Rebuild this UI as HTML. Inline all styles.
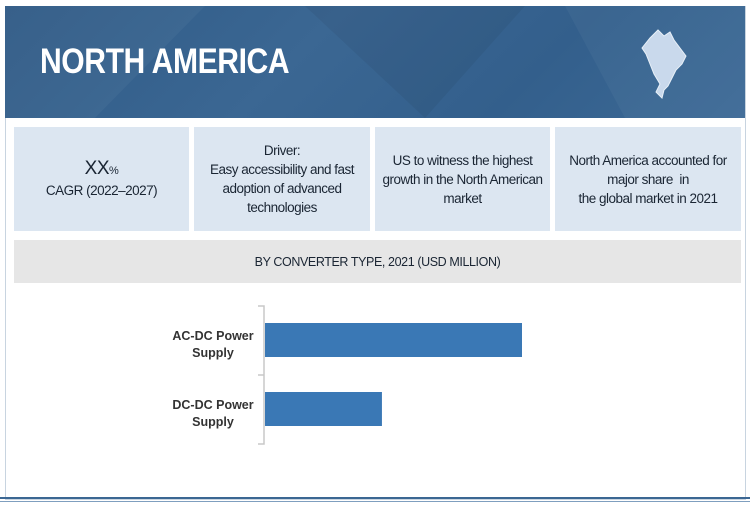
<!DOCTYPE html>
<html><head><meta charset="utf-8"><style>
body{margin:0;width:750px;height:509px;background:#fff;position:relative;overflow:hidden;font-family:"Liberation Sans",sans-serif}
.abs{position:absolute}
.card{position:absolute;top:127px;height:104px;background:#dce6f1;display:flex;align-items:center;justify-content:center;text-align:center;font-size:13.5px;line-height:19px;color:#1a2533;letter-spacing:-0.5px}
</style></head><body>
<div class="abs" style="left:5px;top:6px;width:739px;height:493px;border:1px solid #c8d4e0;border-top:none"></div>
<div class="abs" style="left:5px;top:6px;width:740px;height:112px;background:linear-gradient(135deg,#2f5a86 0%,#3b6793 40%,#335f8c 70%,#3d6a96 100%)"></div>
<svg class="abs" style="left:5px;top:6px" width="740" height="112">
<polygon points="0,0 200,0 90,112 0,112" fill="#ffffff" opacity="0.04"/>
<polygon points="300,0 520,0 420,112" fill="#000" opacity="0.05"/>
<polygon points="560,0 740,0 740,112 620,112" fill="#fff" opacity="0.04"/>
</svg>
<div class="abs" style="left:40px;top:42px;color:#fff;font-size:35px;font-weight:bold;letter-spacing:-0.5px;transform:scaleX(0.86);transform-origin:left top">NORTH AMERICA</div>
<svg class="abs" style="left:636px;top:26px" width="60" height="80">
<path d="M14,12 L22,4 L28,10 L34,6 L38,14 L44,22 L50,30 L46,38 L40,44 L36,52 L32,60 L28,64 L26,72 L20,66 L24,58 L18,48 L14,38 L10,28 L6,22 Z" fill="#c9d9ec" stroke="#e8f0f8" stroke-width="1"/>
</svg>
<div class="card" style="left:14px;width:175px"><div><span style="font-size:19px">XX</span><span style="font-size:11px">%</span><br>CAGR (2022–2027)</div></div>
<div class="card" style="left:194px;width:176px"><div>Driver:<br>Easy accessibility and fast<br>adoption of advanced<br>technologies</div></div>
<div class="card" style="left:375px;width:175px"><div>US to witness the highest<br>growth in the North American<br>market</div></div>
<div class="card" style="left:555px;width:186px"><div>North America accounted for<br>major share&nbsp; in<br>the global market in 2021</div></div>
<div class="abs" style="left:14px;top:240px;width:727px;height:43px;background:#e6e6e6;display:flex;align-items:center;justify-content:center;font-size:12.5px;letter-spacing:-0.4px;color:#1a2533">BY CONVERTER TYPE, 2021 (USD MILLION)</div>
<svg class="abs" style="left:0;top:290px" width="750" height="219" id="chart"></svg>
<div class="abs" style="left:0;top:497px;width:750px;height:2px;background:#3b6793"></div>
<div class="abs" style="left:0;top:501px;width:750px;height:1px;background:#7f9fbf"></div>
<script>
const categories=["AC-DC Power Supply","DC-DC Power Supply"];
const labelLines=[["AC-DC Power","Supply"],["DC-DC Power","Supply"]];
const values=[100,45.5];
const svg=document.getElementById('chart');
const NS='http://www.w3.org/2000/svg';
const x0=265,xMax=522,maxVal=100,yTop=16,band=69;
const xs=v=>x0+(v/maxVal)*(xMax-x0);
const ys=i=>yTop+i*band;
function mk(t,a){const e=document.createElementNS(NS,t);for(const k in a)e.setAttribute(k,a[k]);svg.appendChild(e);return e;}
const ax=mk('path',{d:`M258,${yTop} H264 V${yTop+band*categories.length} H258 M258,${yTop+band} H264`,fill:'none',stroke:'#c8c8c8','stroke-width':1.5});


categories.forEach((c,i)=>{
 const r=mk('rect',{x:x0,y:ys(i)+17,width:xs(values[i])-x0,height:34,fill:'#3a78b5'});
 
 
 const t=mk('text',{x:213,y:ys(i)+37,'text-anchor':'middle','font-size':12.5,'font-weight':'bold',fill:'#333','font-family':'Liberation Sans, sans-serif'});
 
 
 labelLines[i].forEach((l,j)=>{const s=document.createElementNS(NS,'tspan');s.setAttribute('x',213);s.setAttribute('dy',j?17:-3);s.textContent=l;t.appendChild(s);});
});
</script>
</body></html>
